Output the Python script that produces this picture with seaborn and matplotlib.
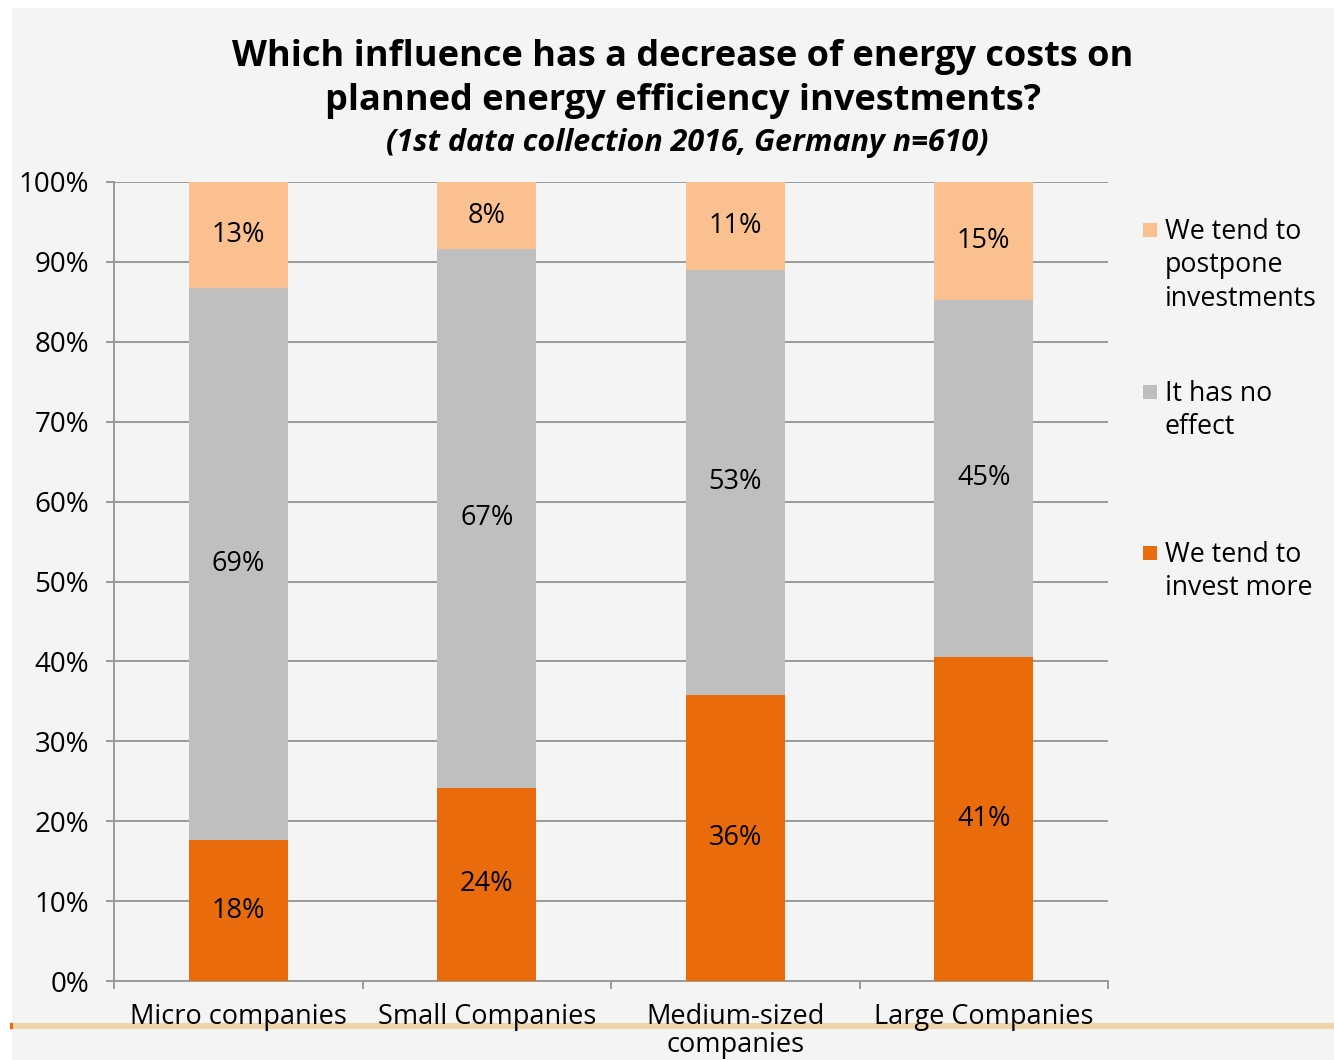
import matplotlib
matplotlib.use("Agg")
import matplotlib.pyplot as plt
import seaborn as sns
from matplotlib.patches import Rectangle
from matplotlib.lines import Line2D
from matplotlib.ticker import FixedLocator

# values (percent of companies)
categories = ["Micro companies", "Small Companies", "Medium-sized\ncompanies", "Large Companies"]
invest_more = [17.6, 24.2, 35.8, 40.6]
no_effect = [69.1, 67.4, 53.2, 44.6]
postpone = [13.3, 8.4, 11.0, 14.8]

series_names = ["We tend to\ninvest more", "It has no\neffect", "We tend to\npostpone\ninvestments"]
series_colors = ["#E96B0C", "#BFBFBF", "#FAC090"]
y_ticks = list(range(0, 101, 10))

sns.set_theme(style="white")
plt.rcParams["font.family"] = ["Open Sans", "DejaVu Sans"]
plt.rcParams.update({"text.color": "black", "xtick.color": "black",
                     "ytick.color": "black", "axes.labelcolor": "black"})

BG = "#F4F4F4"
GRID = "#9A9A9A"
W, H = 1334, 1060
fig = plt.figure(figsize=(W / 100, H / 100), dpi=100, facecolor="white")
# grey panel with a thin white margin left/top
fig.add_artist(Rectangle((12 / W, 0), 1, 1 - 8 / H, transform=fig.transFigure,
                         facecolor=BG, edgecolor="none", zorder=-5))
# tan rule near the bottom
fig.add_artist(Line2D([10 / W, 1], [1 - 1026 / H] * 2, transform=fig.transFigure,
                      color="#EED4AA", lw=4.5, solid_capstyle="butt", zorder=-4))
fig.add_artist(Line2D([10 / W, 12.5 / W], [1 - 1026 / H] * 2, transform=fig.transFigure,
                      color="#E96B0C", lw=4.5, solid_capstyle="butt", zorder=-3))

ax = fig.add_axes([114 / W, 1 - 981 / H, (1108 - 114) / W, (981 - 182) / H])
ax.set_facecolor(BG)

bottom = [0.0] * len(categories)
for vals, color in zip([invest_more, no_effect, postpone], series_colors):
    sns.barplot(x=categories, y=vals, bottom=bottom, color=color, width=0.4,
                saturation=1, ax=ax, zorder=3, linewidth=0)
    bottom = [b + v for b, v in zip(bottom, vals)]

for cont, vals in zip(ax.containers, [invest_more, no_effect, postpone]):
    ax.bar_label(cont, labels=[f"{round(v)}%" for v in vals], label_type="center",
                 fontsize=19.5, color="black")

ax.set_ylim(0, 100)
ax.set_xlim(-0.5, len(categories) - 0.5)
ax.set_yticks(y_ticks)
ax.set_yticklabels([f"{t}%" for t in y_ticks])
ax.yaxis.grid(True, color=GRID, lw=1.4, zorder=0)
ax.set_axisbelow(True)
for s in ["top", "right"]:
    ax.spines[s].set_visible(False)
for s in ["left", "bottom"]:
    ax.spines[s].set_color(GRID)
    ax.spines[s].set_linewidth(1.4)

ax.tick_params(axis="y", length=6, width=1.4, color=GRID, pad=12, labelsize=20,
               left=True, direction="out")
ax.tick_params(axis="x", which="major", length=0, pad=16, labelsize=19.5)
ax.xaxis.set_minor_locator(FixedLocator([i - 0.5 for i in range(len(categories) + 1)]))
ax.tick_params(axis="x", which="minor", length=6, width=1.4, color=GRID,
               bottom=True, direction="out")
for lbl in ax.get_xticklabels():
    lbl.set_linespacing(1.0)
ax.set_xlabel("")
ax.set_ylabel("")

fig.text(683 / W, 1 - 79 / H,
         "Which influence has a decrease of energy costs on\nplanned energy efficiency investments?",
         ha="center", va="center", fontsize=26, fontweight="bold", linespacing=1.28)
fig.text(687 / W, 1 - 143 / H, "(1st data collection 2016, Germany n=610)",
         ha="center", va="center", fontsize=22, fontweight="bold", style="italic")

# legend, handle aligned with first text line
legend_y = [553, 392, 230]
for name, color, yy in zip(series_names, series_colors, legend_y):
    fig.add_artist(Rectangle((1143 / W, 1 - (yy + 7) / H), 14 / W, 14 / H,
                             transform=fig.transFigure, facecolor=color, edgecolor="none"))
    fig.text(1165 / W, 1 - (yy - 12) / H, name, ha="left", va="top", fontsize=19.3,
             linespacing=1.25)

fig.savefig("out.png", dpi=100, facecolor=fig.get_facecolor())
